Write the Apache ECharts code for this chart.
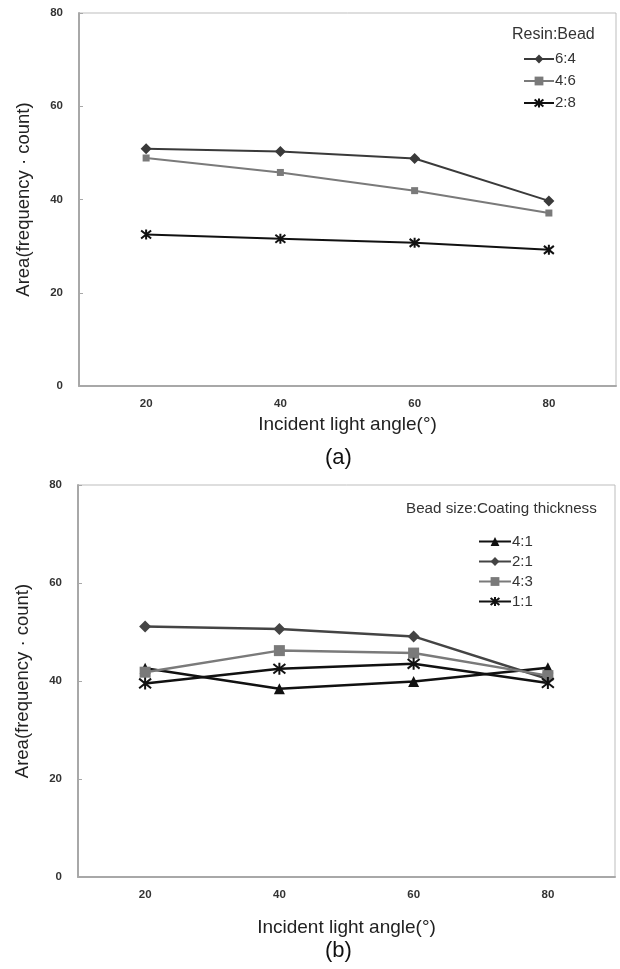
<!DOCTYPE html>
<html>
<head>
<meta charset="utf-8">
<script src="https://cdn.jsdelivr.net/npm/echarts@6/dist/echarts.min.js"></script>
<style>
html,body{margin:0;padding:0;background:#fff;}
#c{width:620px;height:969px;}
</style>
</head>
<body>
<div id="c"></div>
<script>
const angles = ['20', '40', '60', '80'];
const yTicks = [0, 20, 40, 60, 80];
// (a) Resin:Bead
const a_64 = [50.9, 50.3, 48.8, 39.7];
const a_46 = [48.9, 45.8, 41.9, 37.1];
const a_28 = [32.5, 31.6, 30.7, 29.2];
// (b) Bead size:Coating thickness
const b_41 = [42.6, 38.4, 39.9, 42.7];
const b_21 = [51.1, 50.6, 49.1, 40.4];
const b_43 = [41.8, 46.2, 45.7, 41.1];
const b_11 = [39.5, 42.5, 43.5, 39.6];

const FONT = '"Liberation Sans", Arial, sans-serif';
const STAR = 'path://M1,1L9,9M9,1L1,9M5,0L5,10';

function xAxis(gi, gap) {
  return {
    type: 'category', gridIndex: gi, data: angles, boundaryGap: true,
    axisLine: {lineStyle: {color: '#a8a8a8', width: 2}},
    axisTick: {show: false},
    axisLabel: {color: '#333', fontSize: 11.5, fontWeight: 'bold', fontFamily: FONT, margin: 12},
    name: 'Incident light angle(\u00b0)', nameLocation: 'middle', nameGap: gap,
    nameTextStyle: {color: '#222', fontSize: 19, fontFamily: FONT}
  };
}
function yAxis(gi) {
  return {
    type: 'value', gridIndex: gi, min: 0, max: 80, interval: 20,
    axisLine: {show: true, lineStyle: {color: '#a8a8a8', width: 2}},
    axisTick: {show: true, inside: true, length: 4, lineStyle: {color: '#a8a8a8'}},
    splitLine: {show: false},
    axisLabel: {color: '#333', fontSize: 11.5, fontWeight: 'bold', fontFamily: FONT, margin: 16,
      formatter: v => yTicks.indexOf(v) >= 0 ? String(v) : ''},
    name: 'Area(frequency \u00b7 count)', nameLocation: 'middle', nameGap: 46,
    nameTextStyle: {color: '#222', fontSize: 18.5, fontFamily: FONT}
  };
}
function ser(name, gi, data, symbol, size, color, lw, star) {
  return {
    name: name, type: 'line', xAxisIndex: gi, yAxisIndex: gi, data: data,
    symbol: symbol, symbolSize: size, showAllSymbol: true,
    lineStyle: {color: color, width: lw},
    itemStyle: star ? {color: 'rgba(0,0,0,0)', borderColor: color, borderWidth: 2} : {color: color, borderWidth: 0},
    emphasis: {disabled: true}, animation: false
  };
}

const chart = echarts.init(document.getElementById('c'));
chart.setOption({
  backgroundColor: '#fff',
  animation: false,
  grid: [
    {left: 79, top: 13, width: 537, height: 373, show: true, borderColor: '#bdbdbd', borderWidth: 1, containLabel: false},
    {left: 78, top: 485, width: 537, height: 392, show: true, borderColor: '#bdbdbd', borderWidth: 1, containLabel: false}
  ],
  xAxis: [xAxis(0, 29), xAxis(1, 41)],
  yAxis: [yAxis(0), yAxis(1)],
  legend: [
    {orient: 'vertical', left: 523, top: 51, padding: 0, itemWidth: 30, itemHeight: 11, itemGap: 6,
     data: ['6:4', '4:6', '2:8'],
     textStyle: {color: '#333', fontSize: 15, lineHeight: 16, fontFamily: FONT, padding: [0, 0, 0, -4]}},
    {orient: 'vertical', left: 478, top: 534, padding: 0, itemWidth: 32, itemHeight: 11, itemGap: 5,
     data: ['4:1', '2:1', '4:3', '1:1'],
     textStyle: {color: '#333', fontSize: 15, lineHeight: 15, fontFamily: FONT, padding: [0, 0, 0, -4]}}
  ],
  graphic: [
    {type: 'text', left: 512, top: 27, style: {text: 'Resin:Bead', fontSize: 16, fontFamily: FONT, fill: '#333'}},
    {type: 'text', left: 406, top: 501, style: {text: 'Bead size:Coating thickness', fontSize: 15.2, fontFamily: FONT, fill: '#333'}},
    {type: 'text', left: 325, top: 447, style: {text: '(a)', fontSize: 22, fontFamily: FONT, fill: '#111'}},
    {type: 'text', left: 325, top: 940, style: {text: '(b)', fontSize: 22, fontFamily: FONT, fill: '#111'}}
  ],
  series: [
    ser('6:4', 0, a_64, 'diamond', 11, '#3a3a3a', 2),
    ser('4:6', 0, a_46, 'rect', 7, '#7a7a7a', 2),
    ser('2:8', 0, a_28, STAR, 10, '#111', 2, true),
    ser('4:1', 1, b_41, 'triangle', 11, '#111', 2.5),
    ser('2:1', 1, b_21, 'diamond', 12, '#444', 2.5),
    ser('4:3', 1, b_43, 'rect', 11, '#7a7a7a', 2.5),
    ser('1:1', 1, b_11, STAR, 12, '#111', 2.5, true)
  ]
});
</script>
</body>
</html>
